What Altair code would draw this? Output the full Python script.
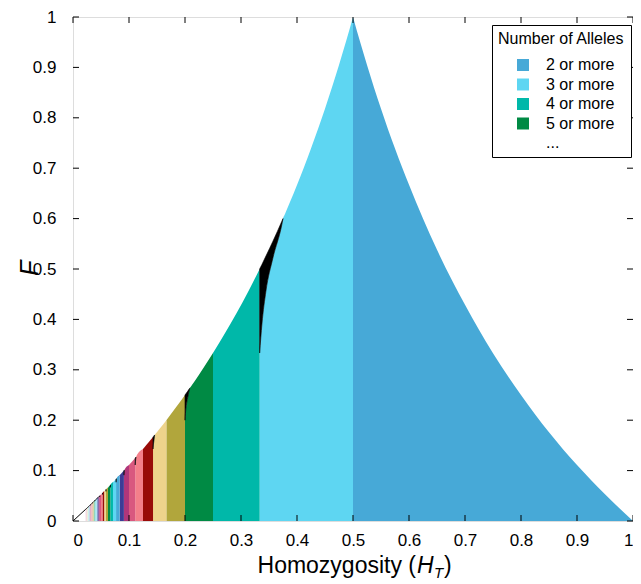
import altair as alt
import pandas as pd

# ---------------- data ----------------
alleles = list(range(2, 45))  # region "K or more" alleles

# region boundaries along H_T (region K spans bounds[i+1] .. bounds[i])
bounds = [1.0, 0.5, 0.3333, 0.25, 0.2, 0.1667, 0.1429, 0.125, 0.1111, 0.1,
          0.0909, 0.0833, 0.0769, 0.0714, 0.0667, 0.0625, 0.0588, 0.0556, 0.0526, 0.05,
          0.0476, 0.0455, 0.0435, 0.0417, 0.04, 0.0385, 0.037, 0.0357, 0.0345, 0.0333,
          0.0323, 0.0313, 0.0303, 0.0294, 0.0286, 0.0278, 0.027, 0.0263, 0.0256, 0.025,
          0.0244, 0.0238, 0.0233, 0.0227]
# upper envelope of F at those boundaries
bound_F = [0.0, 1.0, 0.5, 0.3333, 0.25, 0.2, 0.1667, 0.1429, 0.125, 0.1111,
           0.1, 0.0909, 0.0833, 0.0769, 0.0714, 0.0667, 0.0625, 0.0588, 0.0556, 0.0526,
           0.05, 0.0476, 0.0455, 0.0435, 0.0417, 0.04, 0.0385, 0.037, 0.0357, 0.0345,
           0.0333, 0.0323, 0.0313, 0.0303, 0.0294, 0.0286, 0.0278, 0.027, 0.0263, 0.0256,
           0.025, 0.0244, 0.0238, 0.0233]
# extra points along the upper envelope
extra_x = [0.0, 0.5125, 0.525, 0.55, 0.575, 0.6, 0.65, 0.7, 0.75, 0.8, 0.85, 0.9, 0.95,
           0.3775, 0.38, 0.3875, 0.4, 0.4125, 0.425, 0.4375, 0.45, 0.4625, 0.475, 0.4875,
           0.2708, 0.2917, 0.3125, 0.21, 0.2125, 0.225, 0.1833, 0.1475, 0.155]
extra_F = [0.0, 0.9512, 0.905, 0.818, 0.739, 0.667, 0.538, 0.429, 0.333, 0.25, 0.176, 0.111, 0.053,
           0.6064, 0.6129, 0.6327, 0.6667, 0.7021, 0.7391, 0.7778, 0.8182, 0.8605, 0.9048, 0.9512,
           0.3714, 0.4118, 0.4545, 0.2658, 0.2698, 0.2903, 0.2245, 0.1730, 0.1834]

# black wedges at the left end of odd regions: x, lower edge (colored top), upper edge
wedge_K = [3, 3, 3, 3, 3, 3, 5, 5, 5, 5, 5, 7, 7, 7, 7, 9, 9, 9, 11, 11, 11,
           13, 13, 15, 15, 17, 17, 19, 19, 21, 21]
wedge_x = [0.3333, 0.3374, 0.3445, 0.357, 0.3729, 0.375,
           0.2, 0.2008, 0.2023, 0.2048, 0.2083,
           0.1429, 0.1433, 0.1441, 0.1458,
           0.1111, 0.1116, 0.1125,
           0.0909, 0.0913, 0.0917,
           0.0769, 0.0774, 0.0667, 0.067, 0.0588, 0.059, 0.0526, 0.0528, 0.0476, 0.0477]
wedge_lo = [0.3333, 0.391, 0.456, 0.522, 0.588, 0.6,
            0.2, 0.2137, 0.229, 0.2447, 0.2632,
            0.1429, 0.149, 0.156, 0.1707,
            0.1111, 0.118, 0.1268,
            0.0909, 0.095, 0.1009,
            0.0769, 0.0839, 0.0667, 0.0718, 0.0588, 0.0627, 0.0526, 0.0557, 0.0476, 0.0501]
wedge_hi = [0.5, 0.509, 0.5256, 0.555, 0.5946, 0.6,
            0.25, 0.2513, 0.2536, 0.2575, 0.2632,
            0.1667, 0.1672, 0.1684, 0.1707,
            0.125, 0.1256, 0.1268,
            0.1, 0.1005, 0.1009,
            0.0833, 0.0839, 0.0714, 0.0718, 0.0625, 0.0627, 0.0556, 0.0557, 0.05, 0.0501]

ticks = [0, 0.1, 0.2, 0.3, 0.4, 0.5, 0.6, 0.7, 0.8, 0.9, 1.0]
legend_labels = ["2 or more", "3 or more", "4 or more", "5 or more", "..."]

# ---------------- styles ----------------
base_colors = ["#47a9d7", "#5ed6f2", "#00b8a9", "#008a44", "#b1a63c", "#eed38b",
               "#990b08", "#f47f8a", "#d9587f", "#b0367a", "#3c3c96"]


def lighten(hexc, f):
    r, g, b = int(hexc[1:3], 16), int(hexc[3:5], 16), int(hexc[5:7], 16)
    r, g, b = [int(c + (255 - c) * f) for c in (r, g, b)]
    return "#%02x%02x%02x" % (r, g, b)


def color_for(i):
    cyc, pos = divmod(i, len(base_colors))
    return lighten(base_colors[pos], [0.0, 0.0, 0.45, 0.7][min(cyc, 3)])


legend_colors = base_colors[:4] + ["rgba(255,255,255,0)"]

W, H = 560, 504
TOP = 9
FONT = "Liberation Sans"

# ---------------- tables ----------------
env = sorted(set(zip(bounds + extra_x, bound_F + extra_F)))
wedges = pd.DataFrame({"K": wedge_K, "x": wedge_x, "lo": wedge_lo, "hi": wedge_hi})

rows = []
for i, K in enumerate(alleles):
    lo, hi = bounds[i + 1], bounds[i]
    col = color_for(i)
    w = wedges[wedges.K == K]
    if len(w):
        wend = w.x.max()
        for _, r in w.iterrows():
            rows.append({"K": K, "x": r.x, "F": r.lo, "col": col})
        pts = [(x, f) for x, f in env if wend < x <= hi + 1e-9]
    else:
        pts = [(x, f) for x, f in env if lo - 1e-9 <= x <= hi + 1e-9]
    for x, f in pts:
        rows.append({"K": K, "x": x, "F": f, "col": col})
regions = pd.DataFrame(rows)

edge = pd.DataFrame([{"x": x, "F": f} for x, f in env if x <= 0.046])
tick_df = pd.DataFrame({"t": ticks})

xs = alt.Scale(domain=[0, 1], nice=False, zero=False)
ys = alt.Scale(domain=[0, 1], nice=False, zero=False)
xaxis = alt.Axis(values=ticks, format="~g", title=None, domain=False, ticks=False, grid=False,
                 labelFontSize=17, labelFont=FONT, labelColor="black", labelPadding=11)
yaxis = alt.Axis(values=ticks, format="~g", title=None, domain=False, ticks=False, grid=False,
                 labelFontSize=17, labelFont=FONT, labelColor="black", labelPadding=17)

area = alt.Chart(regions).mark_area(interpolate="monotone").encode(
    x=alt.X("x:Q", scale=xs, axis=xaxis),
    y=alt.Y("F:Q", scale=ys, axis=yaxis, stack=None),
    color=alt.Color("col:N", scale=None),
    detail="K:N",
)

wedge = alt.Chart(wedges).mark_area(interpolate="monotone", color="black", stroke="black",
                                     strokeWidth=0.6).encode(
    x=alt.X("x:Q", scale=xs), y=alt.Y("hi:Q", scale=ys), y2="lo:Q", detail="K:N")

edge_line = alt.Chart(edge).mark_line(color="black", strokeWidth=1).encode(
    x=alt.X("x:Q", scale=xs), y=alt.Y("F:Q", scale=ys))

tk = alt.Chart(tick_df)
tick_b = tk.mark_rule(color="black").encode(x=alt.X("t:Q", scale=xs), y=alt.value(H), y2=alt.value(H - 6))
tick_t = tk.mark_rule(color="black").encode(x=alt.X("t:Q", scale=xs), y=alt.value(0), y2=alt.value(6))
tick_l = tk.mark_rule(color="black").encode(y=alt.Y("t:Q", scale=ys), x=alt.value(0), x2=alt.value(6))
tick_r = tk.mark_rule(color="black").encode(y=alt.Y("t:Q", scale=ys), x=alt.value(W), x2=alt.value(W - 6))

one = pd.DataFrame({"a": [0]})


def txt(s, x, y, size, style="normal", angle=0, align="left"):
    return alt.Chart(one).mark_text(text=s, font=FONT, fontSize=size, fontStyle=style, angle=angle,
                                    align=align, baseline="alphabetic", color="black").encode(
        x=alt.value(x), y=alt.value(y))


xt = 343
ty = 556
title_parts = [
    txt("Homozygosity (", xt, ty, 23, align="right"),
    txt("H", xt + 1, ty, 23, style="italic"),
    txt("T", xt + 18, ty + 5, 15, style="italic"),
    txt(")", xt + 28, ty, 23),
]
ytitle = txt("F", -35, 251, 25, style="italic", angle=270, align="center")

leg = alt.Chart(pd.DataFrame({"lab": legend_labels})).mark_square(opacity=0).encode(
    fill=alt.Fill("lab:N", scale=alt.Scale(domain=legend_labels, range=legend_colors),
                  legend=alt.Legend(title="Number of Alleles", orient="none", legendX=419, legendY=8,
                                    symbolType="square", symbolSize=144, symbolOpacity=1,
                                    symbolStrokeWidth=0, strokeColor="black", fillColor="white",
                                    padding=6, labelFontSize=16, titleFontSize=16, labelFont=FONT,
                                    titleFont=FONT, titleFontWeight="normal", titleColor="black",
                                    labelColor="black", symbolOffset=17, labelOffset=15,
                                    rowPadding=3.5, titlePadding=10, cornerRadius=0))
)

chart = alt.layer(area, wedge, edge_line, tick_b, tick_t, tick_l, tick_r, *title_parts, ytitle, leg).resolve_scale(
    color="independent", fill="independent"
).properties(
    width=W, height=H, autosize=alt.AutoSizeParams(type="none"),
    padding={"left": 65, "top": TOP, "right": 0, "bottom": 63},
).configure_view(stroke="black", strokeWidth=1.5).configure(background="white")

chart.save("out.html", embed_options={"renderer": "svg", "actions": False})
